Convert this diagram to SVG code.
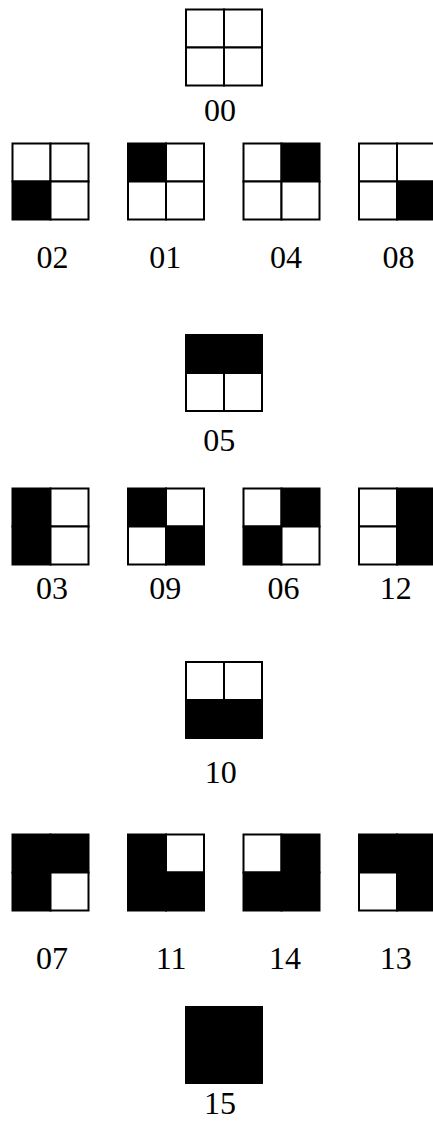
<svg xmlns="http://www.w3.org/2000/svg" width="433" height="1122" viewBox="0 0 433 1122">
<style>
.w{fill:#fff;stroke:#000;stroke-width:2}
.b{fill:#000;stroke:#000;stroke-width:2}
</style>
<rect width="433" height="1122" fill="#fff"/>
<g font-family="Liberation Serif, Times New Roman, Times, DejaVu Serif, Noto Serif, serif" font-size="32" fill="#000">
<g id="n00" transform="translate(185,8.5)">
<rect class="w" x="1" y="1" width="38" height="38"/><rect class="w" x="39" y="1" width="38" height="38"/>
<rect class="w" x="1" y="39" width="38" height="38"/><rect class="w" x="39" y="39" width="38" height="38"/>
<text x="19" y="112.5">00</text>
</g>
<g id="n02" transform="translate(11.5,142.5)">
<rect class="w" x="1" y="1" width="38" height="38"/><rect class="w" x="39" y="1" width="38" height="38"/>
<rect class="b" x="1" y="39" width="38" height="38"/><rect class="w" x="39" y="39" width="38" height="38"/>
<text x="25" y="125.3">02</text>
</g>
<g id="n01" transform="translate(127,142.5)">
<rect class="b" x="1" y="1" width="38" height="38"/><rect class="w" x="39" y="1" width="38" height="38"/>
<rect class="w" x="1" y="39" width="38" height="38"/><rect class="w" x="39" y="39" width="38" height="38"/>
<text x="22.2" y="125.3">01</text>
</g>
<g id="n04" transform="translate(242.5,142.5)">
<rect class="w" x="1" y="1" width="38" height="38"/><rect class="b" x="39" y="1" width="38" height="38"/>
<rect class="w" x="1" y="39" width="38" height="38"/><rect class="w" x="39" y="39" width="38" height="38"/>
<text x="27.5" y="125.3">04</text>
</g>
<g id="n08" transform="translate(358,142.5)">
<rect class="w" x="1" y="1" width="38" height="38"/><rect class="w" x="39" y="1" width="38" height="38"/>
<rect class="w" x="1" y="39" width="38" height="38"/><rect class="b" x="39" y="39" width="38" height="38"/>
<text x="24.5" y="125.3">08</text>
</g>
<g id="n05" transform="translate(185,334)">
<rect class="b" x="1" y="1" width="38" height="38"/><rect class="b" x="39" y="1" width="38" height="38"/>
<rect class="w" x="1" y="39" width="38" height="38"/><rect class="w" x="39" y="39" width="38" height="38"/>
<text x="18.2" y="117.3">05</text>
</g>
<g id="n03" transform="translate(11.5,487.5)">
<rect class="b" x="1" y="1" width="38" height="38"/><rect class="w" x="39" y="1" width="38" height="38"/>
<rect class="b" x="1" y="39" width="38" height="38"/><rect class="w" x="39" y="39" width="38" height="38"/>
<text x="24.5" y="111.5">03</text>
</g>
<g id="n09" transform="translate(127,487.5)">
<rect class="b" x="1" y="1" width="38" height="38"/><rect class="w" x="39" y="1" width="38" height="38"/>
<rect class="w" x="1" y="39" width="38" height="38"/><rect class="b" x="39" y="39" width="38" height="38"/>
<text x="22.2" y="111.5">09</text>
</g>
<g id="n06" transform="translate(242.5,487.5)">
<rect class="w" x="1" y="1" width="38" height="38"/><rect class="b" x="39" y="1" width="38" height="38"/>
<rect class="b" x="1" y="39" width="38" height="38"/><rect class="w" x="39" y="39" width="38" height="38"/>
<text x="25" y="111.5">06</text>
</g>
<g id="n12" transform="translate(358,487.5)">
<rect class="w" x="1" y="1" width="38" height="38"/><rect class="b" x="39" y="1" width="38" height="38"/>
<rect class="w" x="1" y="39" width="38" height="38"/><rect class="b" x="39" y="39" width="38" height="38"/>
<text x="21.8" y="111.5">12</text>
</g>
<g id="n10" transform="translate(185,661)">
<rect class="w" x="1" y="1" width="38" height="38"/><rect class="w" x="39" y="1" width="38" height="38"/>
<rect class="b" x="1" y="39" width="38" height="38"/><rect class="b" x="39" y="39" width="38" height="38"/>
<text x="19.8" y="122">10</text>
</g>
<g id="n07" transform="translate(11.5,833.5)">
<rect class="b" x="1" y="1" width="38" height="38"/><rect class="b" x="39" y="1" width="38" height="38"/>
<rect class="b" x="1" y="39" width="38" height="38"/><rect class="w" x="39" y="39" width="38" height="38"/>
<text x="24.5" y="135">07</text>
</g>
<g id="n11" transform="translate(127,833.5)">
<rect class="b" x="1" y="1" width="38" height="38"/><rect class="w" x="39" y="1" width="38" height="38"/>
<rect class="b" x="1" y="39" width="38" height="38"/><rect class="b" x="39" y="39" width="38" height="38"/>
<text x="28.8" y="135">11</text>
</g>
<g id="n14" transform="translate(242.5,833.5)">
<rect class="w" x="1" y="1" width="38" height="38"/><rect class="b" x="39" y="1" width="38" height="38"/>
<rect class="b" x="1" y="39" width="38" height="38"/><rect class="b" x="39" y="39" width="38" height="38"/>
<text x="26.6" y="135">14</text>
</g>
<g id="n13" transform="translate(358,833.5)">
<rect class="b" x="1" y="1" width="38" height="38"/><rect class="b" x="39" y="1" width="38" height="38"/>
<rect class="w" x="1" y="39" width="38" height="38"/><rect class="b" x="39" y="39" width="38" height="38"/>
<text x="21.8" y="135">13</text>
</g>
<g id="n15" transform="translate(185,1006)">
<rect class="b" x="1" y="1" width="38" height="38"/><rect class="b" x="39" y="1" width="38" height="38"/>
<rect class="b" x="1" y="39" width="38" height="38"/><rect class="b" x="39" y="39" width="38" height="38"/>
<text x="19.1" y="108">15</text>
</g>
</g>
</svg>
